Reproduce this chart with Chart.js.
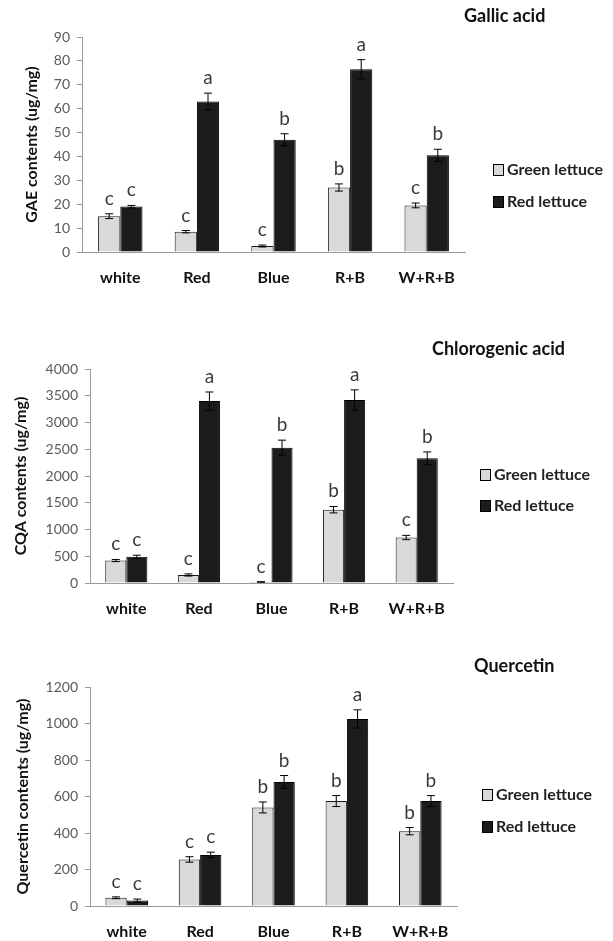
<!DOCTYPE html>
<html>
<head>
<meta charset="utf-8">
<script src="https://cdn.jsdelivr.net/npm/chart.js@4.4.0/dist/chart.umd.min.js"></script>
<style>
  body { margin: 0; background: #fff; }
  .wrap { position: absolute; left: 0; width: 613px; }
</style>
</head>
<body>
<div class="wrap" style="top:0;height:300px"><canvas id="gallic"></canvas></div>
<div class="wrap" style="top:300px;height:320px"><canvas id="cqa"></canvas></div>
<div class="wrap" style="top:620px;height:321px"><canvas id="quer"></canvas></div>
<script>
const categories = ['white', 'Red', 'Blue', 'R+B', 'W+R+B'];
const seriesNames = ['Green lettuce', 'Red lettuce'];

// Gallic acid (ug/mg)
const gallicGreen = [15, 8.5, 2.5, 27, 19.5];
const gallicRed = [19, 63, 47, 76.5, 40.5];
const gallicGreenErr = [1, 0.5, 0.4, 1.5, 1];
const gallicRedErr = [0.5, 3.5, 2.5, 4, 2.5];
const gallicGreenLetters = ['c', 'c', 'c', 'b', 'c'];
const gallicRedLetters = ['c', 'a', 'b', 'a', 'b'];

// Chlorogenic acid
const cqaGreen = [420, 150, 20, 1370, 850];
const cqaRed = [490, 3400, 2530, 3420, 2330];
const cqaGreenErr = [20, 20, 5, 60, 40];
const cqaRedErr = [30, 170, 140, 190, 120];
const cqaGreenLetters = ['c', 'c', 'c', 'b', 'c'];
const cqaRedLetters = ['c', 'a', 'b', 'a', 'b'];

// Quercetin
const querGreen = [45, 255, 540, 575, 410];
const querRed = [30, 280, 680, 1025, 575];
const querGreenErr = [5, 15, 30, 30, 20];
const querRedErr = [8, 15, 35, 50, 30];
const querGreenLetters = ['c', 'c', 'b', 'b', 'b'];
const querRedLetters = ['c', 'c', 'b', 'a', 'b'];

const FONT = 'Lato, "Open Sans", sans-serif';

// error bars + significance letters + legend + title
const extrasPlugin = {
    id: 'extras',
    afterDatasetsDraw(chart, args, opts) {
        const ctx = chart.ctx;
        const y = chart.scales.y;
        ctx.save();
        chart.data.datasets.forEach((ds, i) => {
            const meta = chart.getDatasetMeta(i);
            meta.data.forEach((bar, j) => {
                const v = ds.data[j];
                const e = ds.errors[j];
                const top = y.getPixelForValue(v + e);
                const bot = y.getPixelForValue(v - e);
                ctx.strokeStyle = '#000';
                ctx.lineWidth = 1;
                ctx.beginPath();
                ctx.moveTo(bar.x, top); ctx.lineTo(bar.x, bot);
                ctx.moveTo(bar.x - 4, top); ctx.lineTo(bar.x + 4, top);
                ctx.moveTo(bar.x - 4, bot); ctx.lineTo(bar.x + 4, bot);
                ctx.stroke();
                ctx.fillStyle = '#3a3a3a';
                ctx.font = '19px ' + FONT;
                ctx.textAlign = 'center';
                ctx.textBaseline = 'alphabetic';
                ctx.fillText(ds.letters[j], bar.x, top - 9);
            });
        });
        // title
        ctx.fillStyle = '#111';
        ctx.font = 'bold 18px ' + FONT;
        ctx.textAlign = 'left';
        ctx.textBaseline = 'middle';
        ctx.fillText(opts.title, opts.titleX, opts.titleY);
        // legend
        ctx.font = 'bold 16px ' + FONT;
        chart.data.datasets.forEach((ds, i) => {
            const ly = opts.legendY[i];
            ctx.fillStyle = ds.backgroundColor;
            ctx.fillRect(opts.legendX, ly - 6, 10, 12);
            ctx.strokeStyle = '#000';
            ctx.strokeRect(opts.legendX + 0.5, ly - 5.5, 10, 11);
            ctx.fillStyle = '#222';
            ctx.fillText(ds.label, opts.legendX + 14, ly);
        });
        ctx.restore();
    }
};

function makeChart(id, cfg) {
    new Chart(document.getElementById(id), {
        type: 'bar',
        data: {
            labels: categories,
            datasets: [
                { label: seriesNames[0], data: cfg.green, errors: cfg.greenErr, letters: cfg.greenLetters,
                  backgroundColor: '#d9d9d9', borderColor: '#1a1a1a', borderWidth: 1 },
                { label: seriesNames[1], data: cfg.red, errors: cfg.redErr, letters: cfg.redLetters,
                  backgroundColor: '#1c1c1c', borderColor: '#000', borderWidth: 1 }
            ]
        },
        options: {
            responsive: true,
            maintainAspectRatio: false,
            animation: false,
            categoryPercentage: 0.58,
            barPercentage: 1,
            layout: { padding: { left: cfg.padLeft, top: cfg.padTop, right: cfg.padRight, bottom: 0 } },
            plugins: {
                legend: { display: false },
                tooltip: { enabled: false },
                extras: { title: cfg.title, titleX: cfg.titleX, titleY: cfg.titleY,
                          legendX: cfg.legendX, legendY: cfg.legendY }
            },
            scales: {
                x: {
                    grid: { display: false, drawTicks: false },
                    border: { color: '#9a9a9a' },
                    ticks: { color: '#111', padding: 16, font: { family: FONT, size: 16, weight: 'bold' } },
                    afterFit: s => { s.height = cfg.xHeight; }
                },
                y: {
                    min: 0, max: cfg.max,
                    ticks: { stepSize: cfg.step, color: '#5a5a5a', padding: 7, font: { family: FONT, size: 14 },
                             callback: v => String(v) },
                    grid: { drawOnChartArea: false, tickLength: 5, color: '#9a9a9a' },
                    border: { color: '#9a9a9a' },
                    title: { display: true, text: cfg.yTitle, color: '#111', padding: { top: 1, bottom: 0 },
                             font: { family: FONT, size: 16, weight: 'bold' } },
                    afterFit: s => { s.width = cfg.yWidth; }
                }
            }
        },
        plugins: [extrasPlugin]
    });
}

makeChart('gallic', {
    green: gallicGreen, red: gallicRed, greenErr: gallicGreenErr, redErr: gallicRedErr,
    greenLetters: gallicGreenLetters, redLetters: gallicRedLetters,
    max: 90, step: 10, yTitle: 'GAE contents (ug/mg)',
    padLeft: 21, yWidth: 61, padTop: 37, padRight: 148, xHeight: 48,
    title: 'Gallic acid', titleX: 464, titleY: 16, legendX: 493, legendY: [170, 202]
});
makeChart('cqa', {
    green: cqaGreen, red: cqaRed, greenErr: cqaGreenErr, redErr: cqaRedErr,
    greenLetters: cqaGreenLetters, redLetters: cqaRedLetters,
    max: 4000, step: 500, yTitle: 'CQA contents (ug/mg)',
    padLeft: 10, yWidth: 80, padTop: 69, padRight: 160, xHeight: 37,
    title: 'Chlorogenic acid', titleX: 432, titleY: 49, legendX: 480, legendY: [175, 206]
});
makeChart('quer', {
    green: querGreen, red: querRed, greenErr: querGreenErr, redErr: querRedErr,
    greenLetters: querGreenLetters, redLetters: querRedLetters,
    max: 1200, step: 200, yTitle: 'Quercetin contents (ug/mg)',
    padLeft: 12, yWidth: 78, padTop: 67, padRight: 156, xHeight: 35,
    title: 'Quercetin', titleX: 474, titleY: 46, legendX: 482, legendY: [175, 207]
});
</script>
</body>
</html>
